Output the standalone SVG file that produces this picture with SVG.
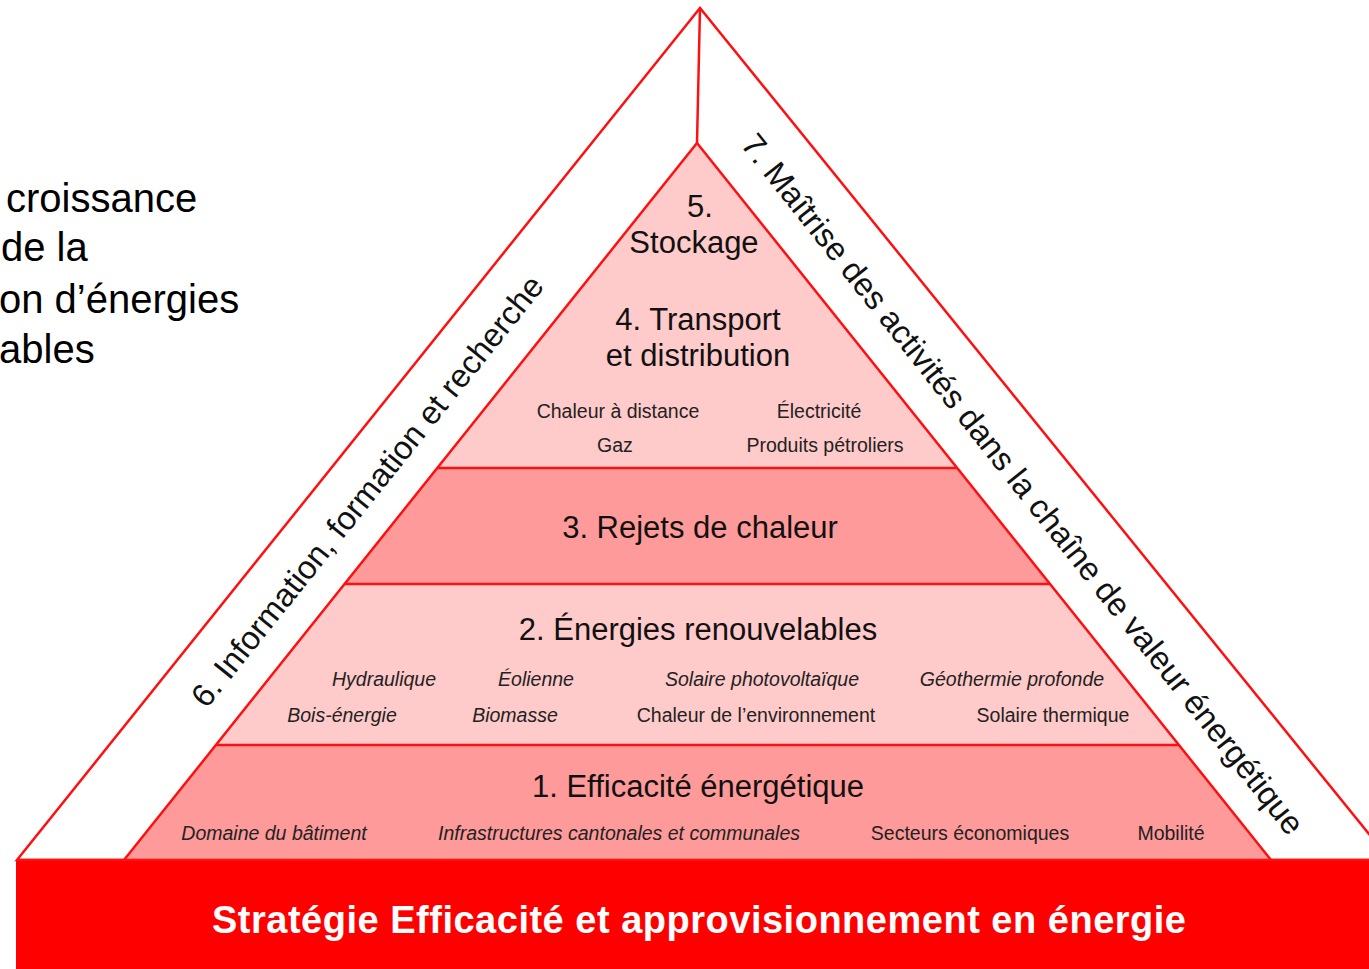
<svg xmlns="http://www.w3.org/2000/svg" width="1369" height="969" viewBox="0 0 1369 969">
<style>
text{font-family:"Liberation Sans",Arial,sans-serif;fill:#111;}
.ln{stroke:#ff1010;stroke-width:2.5;fill:none;stroke-linejoin:miter;}
.light{fill:#ffcaca;}
.dark{fill:#ff9a9a;}
.big{font-size:31px;text-anchor:middle;}
.side{font-size:32.5px;text-anchor:middle;}
.sm{font-size:19.5px;text-anchor:middle;fill:#222;}
.it{font-style:italic;}
.hdr{font-size:40px;fill:#000;}
</style>
<rect width="1369" height="969" fill="#ffffff"/>

<g id="intro-text">
<text class="hdr" x="6" y="212">croissance</text>
<text class="hdr" x="1" y="261">de la</text>
<text class="hdr" x="-1" y="313">on d’énergies</text>
<text class="hdr" x="-1" y="363">ables</text>
</g>

<g id="outer-triangle">
<polygon points="700,8 17,860 1390,860" fill="#ffffff" class="ln"/>
<line x1="700" y1="8" x2="697" y2="143" class="ln"/>
</g>

<g id="layer-5-4">
<polygon points="697,143 437.3,468 957.2,468" class="light"/>
<text class="big" x="700" y="217">5.</text>
<text class="big" x="694" y="253">Stockage</text>
<text class="big" x="698" y="330">4. Transport</text>
<text class="big" x="698" y="366">et distribution</text>
<text class="sm" x="618" y="418">Chaleur à distance</text>
<text class="sm" x="819" y="418">Électricité</text>
<text class="sm" x="615" y="452">Gaz</text>
<text class="sm" x="825" y="452">Produits pétroliers</text>
</g>

<g id="layer-3">
<polygon points="437.3,468 957.2,468 1050.1,584 344.6,584" class="dark"/>
<text class="big" x="700" y="538">3. Rejets de chaleur</text>
</g>

<g id="layer-2">
<polygon points="344.6,584 1050.1,584 1179,745 215.9,745" class="light"/>
<text class="big" x="698" y="640">2. Énergies renouvelables</text>
<text class="sm it" x="384" y="686">Hydraulique</text>
<text class="sm it" x="536" y="686">Éolienne</text>
<text class="sm it" x="762" y="686">Solaire photovoltaïque</text>
<text class="sm it" x="1012" y="686">Géothermie profonde</text>
<text class="sm it" x="342" y="722">Bois-énergie</text>
<text class="sm it" x="515" y="722">Biomasse</text>
<text class="sm" x="756" y="722">Chaleur de l’environnement</text>
<text class="sm" x="1053" y="722">Solaire thermique</text>
</g>

<g id="layer-1">
<polygon points="215.9,745 1179,745 1271,860 124,860" class="dark"/>
<text class="big" x="698" y="797">1. Efficacité énergétique</text>
<text class="sm it" x="274" y="840">Domaine du bâtiment</text>
<text class="sm it" x="619" y="840">Infrastructures cantonales et communales</text>
<text class="sm" x="970" y="840">Secteurs économiques</text>
<text class="sm" x="1171" y="840">Mobilité</text>
</g>

<g id="inner-lines">
<polyline points="124,860 697,143 1271,860" class="ln"/>
<line x1="437.3" y1="468" x2="957.2" y2="468" class="ln"/>
<line x1="344.6" y1="584" x2="1050.1" y2="584" class="ln"/>
<line x1="215.9" y1="745" x2="1179" y2="745" class="ln"/>
<line x1="17" y1="860" x2="1369" y2="860" class="ln"/>
</g>

<g id="side-6">
<text class="side" transform="translate(376,498) rotate(-51.3)">6. Information, formation et recherche</text>
</g>

<g id="side-7">
<text class="side" transform="translate(1014,491) rotate(51.6)">7. Maîtrise des activités dans la chaîne de valeur énergétique</text>
</g>

<g id="base-band">
<rect x="16" y="861" width="1360" height="110" fill="#ff0000"/>
<text x="699" y="933" text-anchor="middle" font-size="38" font-weight="bold" fill="#ffffff" style="fill:#ffffff" textLength="974" lengthAdjust="spacing">Stratégie Efficacité et approvisionnement en énergie</text>
</g>
</svg>
